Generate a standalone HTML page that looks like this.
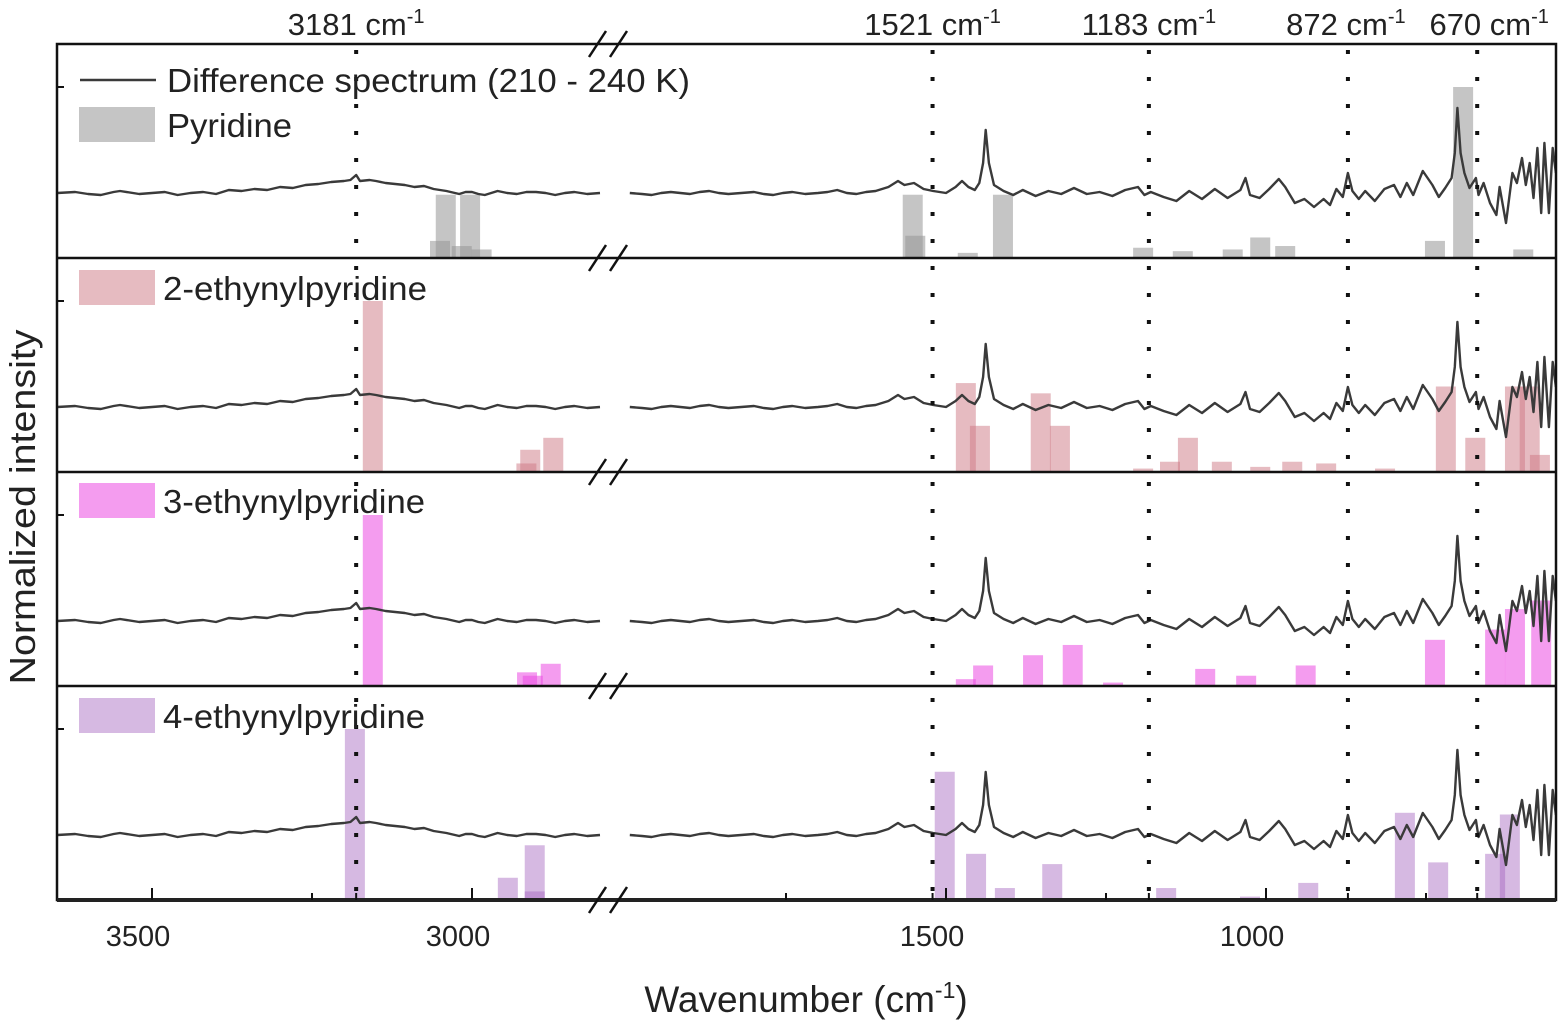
<!DOCTYPE html>
<html><head><meta charset="utf-8"><style>
html,body{margin:0;padding:0;background:#fff;}
svg{display:block;font-family:"Liberation Sans",Arial,sans-serif;}
</style></head><body>
<svg id="chart" width="1564" height="1031" viewBox="0 0 1564 1031" xmlns="http://www.w3.org/2000/svg"></svg>
<script>
// ---- data ----
const markerValues = [3181, 1521, 1183, 872, 670];
const majorTicks = [3500, 3000, 1500, 1000];
const minorTicks = [3250, 1750, 1250, 750];
const panelNames = ["Pyridine", "2-ethynylpyridine", "3-ethynylpyridine", "4-ethynylpyridine"];
const panelColors = ["rgba(150,150,150,0.55)", "rgba(205,120,132,0.5)", "rgba(235,75,225,0.55)", "rgba(165,100,190,0.45)"];
// spectrum [wavenumber, intensity]
const spectrum = [
[3648,0],[3620,1],[3600,-1],[3580,-2],[3560,1],[3550,2],[3520,-1],[3500,0],[3480,1],[3460,-2],[3440,0],[3420,1],[3400,-1],[3380,3],[3360,2],[3340,4],[3320,3],[3300,6],[3280,5],[3260,8],[3240,9],[3220,11],[3200,12],[3190,13],[3181,18],[3175,12],[3160,13],[3150,12],[3135,10],[3120,9],[3105,8],[3090,6],[3075,7],[3060,4],[3040,2],[3020,-1],[3010,1],[3000,1],[2990,-1],[2980,-2],[2970,0],[2960,2],[2945,0],[2930,-1],[2915,1],[2900,1],[2885,0],[2870,-2],[2855,0],[2840,1],[2820,-1],[2800,0],
[1994,0],[1975,-1],[1960,-2],[1945,0],[1930,1],[1915,0],[1900,-1],[1885,1],[1870,2],[1855,0],[1840,-1],[1820,0],[1800,1],[1785,-1],[1770,-2],[1755,0],[1740,1],[1720,-1],[1700,0],[1685,1],[1670,3],[1655,0],[1640,-1],[1625,1],[1610,2],[1590,6],[1575,12],[1565,8],[1550,10],[1535,4],[1520,2],[1500,0],[1485,6],[1475,12],[1465,6],[1455,3],[1448,10],[1442,30],[1438,63],[1433,30],[1425,8],[1410,2],[1395,-2],[1380,3],[1360,-3],[1340,2],[1320,-1],[1300,5],[1280,-1],[1260,1],[1240,-3],[1220,3],[1200,6],[1190,-2],[1180,1],[1160,-4],[1140,-8],[1120,2],[1100,-6],[1080,4],[1060,-5],[1040,3],[1032,15],[1025,-2],[1010,-5],[995,4],[980,14],[970,6],[955,-10],[940,-6],[925,-14],[910,-6],[900,-12],[890,4],[880,-4],[872,20],[865,2],[855,-6],[845,2],[830,-8],[815,4],[800,8],[790,-4],[780,10],[770,-2],[755,22],[740,8],[730,-4],[720,5],[710,15],[705,40],[701,85],[696,40],[690,20],[682,5],[672,15],[668,-2],[660,10],[650,-10],[640,-22],[635,6],[625,-30],[615,20],[608,10],[600,35],[594,8],[588,30],[582,-5],[576,45],[570,-20],[565,50],[558,-20],[552,45],[547,20]
];
// bars per panel: [wavenumber, relative height]
const barsPyridine = [[3050,0.1],[3041,0.37],[3016,0.07],[3003,0.37],[2985,0.05],[1552,0.37],[1548,0.13],[1466,0.03],[1411,0.37],[1192,0.06],[1130,0.04],[1052,0.05],[1009,0.12],[970,0.07],[736,0.1],[692,1.0],[598,0.05]];
const bars2 = [[3155,1.0],[2915,0.05],[2909,0.13],[2873,0.2],[1469,0.52],[1447,0.27],[1352,0.46],[1322,0.27],[1192,0.02],[1150,0.06],[1122,0.2],[1069,0.06],[1009,0.03],[959,0.06],[906,0.05],[814,0.02],[719,0.5],[673,0.2],[611,0.5],[588,0.5],[572,0.1]];
const bars3 = [[3155,1.0],[2914,0.08],[2905,0.06],[2877,0.13],[1469,0.04],[1442,0.12],[1364,0.18],[1302,0.24],[1239,0.02],[1095,0.1],[1031,0.06],[938,0.12],[736,0.27],[642,0.33],[611,0.45],[570,0.5]];
const bars4 = [[3183,1.0],[2944,0.13],[2902,0.32],[2902,0.05],[1502,0.75],[1453,0.27],[1408,0.07],[1334,0.21],[1156,0.07],[1025,0.02],[934,0.1],[783,0.51],[731,0.22],[642,0.27],[619,0.5]];
const allBars = [barsPyridine, bars2, bars3, bars4];

// ---- geometry ----
const NS = "http://www.w3.org/2000/svg";
const svg = document.getElementById("chart");
const L = 57, R = 1556, T = 44, PH = 214, B = T + 4 * PH;
const scale = 0.64;
function xScale(w) { return w >= 2400 ? 152 + (3500 - w) * scale : 946 + (1500 - w) * scale; }
function panelTop(i) { return T + i * PH; }
function baseY(i) { return panelTop(i) + 149; }
function mk(tag, attrs, parent) {
  const e = document.createElementNS(NS, tag);
  for (const k in attrs) e.setAttribute(k, attrs[k]);
  (parent || svg).appendChild(e);
  return e;
}
function txt(x, y, s, size, anchor, parent, len) {
  const a = { x: x, y: y, "font-size": size, "text-anchor": anchor || "start", fill: "#222" };
  if (len) { a.textLength = len; a.lengthAdjust = "spacingAndGlyphs"; }
  const t = mk("text", a, parent);
  t.textContent = s;
  return t;
}

// bars
allBars.forEach((bars, i) => {
  const g = mk("g", {});
  
  
  bars.forEach(b => {
    const h = b[1] * 171, bot = panelTop(i) + PH;
    const r = mk("rect", { x: xScale(b[0]) - 10, y: bot - h, width: 20, height: h, fill: panelColors[i] }, g);
    
    
  });
});

// spectra
for (let i = 0; i < 4; i++) {
  const g = mk("g", {});
  
  
  const left = spectrum.filter(p => p[0] >= 2400), right = spectrum.filter(p => p[0] < 2400);
  [left, right].forEach(seg => {
    const d = seg.map((p, k) => (k ? "L" : "M") + xScale(p[0]).toFixed(1) + "," + (baseY(i) - p[1]).toFixed(1)).join(" ");
    const pth = mk("path", { d: d, fill: "none", stroke: "#3a3a3a", "stroke-width": 2.4, "stroke-linejoin": "round" }, g);
    
    
  });
}

// dotted marker lines + labels
markerValues.forEach(v => {
  const x = xScale(v);
  const ln = mk("line", { x1: x, y1: T + 6, x2: x, y2: B, stroke: "#111", "stroke-width": 4, "stroke-dasharray": "4 23" });
  
  
  const t = mk("text", { x: v === 670 ? x + 12 : (v === 872 ? x - 2 : x), y: 35, "font-size": 31, "text-anchor": "middle", fill: "#222" });
  
  
  t.textContent = v + " cm";
  const s = mk("tspan", { dy: -12, "font-size": 20 }, t);
  s.textContent = "-1";
});

// frame and dividers
const frame = mk("rect", { x: L, y: T, width: R - L, height: B - T, fill: "none", stroke: "#111", "stroke-width": 2.5 });


mk("line", { x1: L, y1: B, x2: R, y2: B, stroke: "#222", "stroke-width": 4 });
for (let i = 1; i < 4; i++) {
  const d = mk("line", { x1: L, y1: panelTop(i), x2: R, y2: panelTop(i), stroke: "#111", "stroke-width": 2.5 });
  
  
}
for (let i = 0; i < 4; i++) {
  mk("line", { x1: L, y1: panelTop(i) + PH - 171, x2: L + 7, y2: panelTop(i) + PH - 171, stroke: "#111", "stroke-width": 2 });
}
// axis breaks
for (let i = 0; i <= 4; i++) {
  const y = T + i * PH;
  const g = mk("g", {});
  
  
  mk("line", { x1: 589, y1: y + 13, x2: 606, y2: y - 13, stroke: "#111", "stroke-width": 2.5 }, g);
  mk("line", { x1: 610, y1: y + 13, x2: 627, y2: y - 13, stroke: "#111", "stroke-width": 2.5 }, g);
}
// x ticks
majorTicks.forEach(v => {
  const x = xScale(v);
  mk("line", { x1: x, y1: B, x2: x, y2: B - 12, stroke: "#111", "stroke-width": 2 });
  const t = txt(x - 14, 946, String(v), 29, "middle");
  
  
});
minorTicks.concat(markerValues).forEach(v => {
  const x = xScale(v);
  mk("line", { x1: x, y1: B, x2: x, y2: B - 7, stroke: "#111", "stroke-width": 2 });
});

// legends
const lg = mk("g", {});


mk("line", { x1: 80, y1: 80, x2: 156, y2: 80, stroke: "#3a3a3a", "stroke-width": 2.4 }, lg);
txt(167, 92, "Difference spectrum (210 - 240 K)", 33, "start", lg, 523);
const legendYs = [107, 270, 483, 698];
const legendLens = [125, 264, 262, 262];
panelNames.forEach((n, i) => {
  const e = mk("g", {}, lg);
  
  
  mk("rect", { x: 79, y: legendYs[i], width: 76, height: 35, fill: panelColors[i] }, e);
  txt(i === 0 ? 167 : 163, legendYs[i] + 30, n, 33, "start", e, legendLens[i]);
});

// axis titles
const yt = mk("text", { x: 0, y: 0, "font-size": 36, "text-anchor": "middle", fill: "#222", transform: "translate(35,507) rotate(-90)", textLength: 355, lengthAdjust: "spacingAndGlyphs" });


yt.textContent = "Normalized intensity";
const xt = mk("text", { x: 806, y: 1012, "font-size": 37, "text-anchor": "middle", fill: "#222" });


xt.textContent = "Wavenumber (cm";
const xs = mk("tspan", { dy: -14, "font-size": 23 }, xt); xs.textContent = "-1";
const xe = mk("tspan", { dy: 14 }, xt); xe.textContent = ")";
</script>
</body></html>
